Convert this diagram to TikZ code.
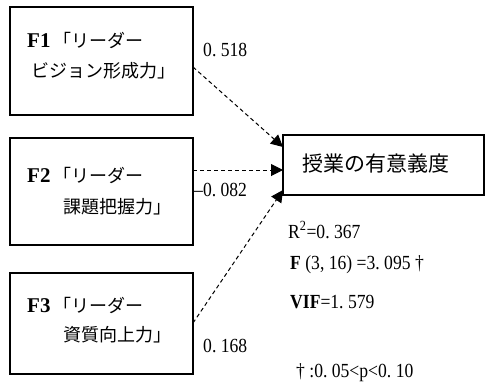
\documentclass[tikz,border=0pt]{standalone}
\usepackage{fontspec}
\setmainfont{Liberation Serif}
\newfontfamily\jp{Noto Sans CJK JP}
\usetikzlibrary{arrows.meta}
\newcommand\nar[1]{\scalebox{0.88}[1]{#1}}
\begin{document}
\begin{tikzpicture}[x=1pt,y=-1pt,
  box/.style={draw,line width=1.5pt,inner sep=0pt},
  jtxt/.style={font=\fontsize{18}{18}\selectfont,anchor=west,inner sep=0pt},
  num/.style={font=\fontsize{20}{20}\selectfont,anchor=west,inner sep=0pt},
  conn/.style={dash pattern=on 4pt off 3pt, line width=1pt, -{Triangle[length=12pt,width=12pt]}}]
\useasboundingbox (0,0) rectangle (486,389);
% boxes
\node[box, minimum width=183pt, minimum height=108pt] (f1) at (101.5,61) {};
\node[box, minimum width=183pt, minimum height=107pt] (f2) at (101.5,191.5) {};
\node[box, minimum width=183pt, minimum height=101pt] (f3) at (101.5,323.5) {};
\node[box, minimum width=201pt, minimum height=60pt] (y) at (383.5,165) {};
% box texts
\node[jtxt] (f1a) at (27,40) {\textbf{\fontsize{21}{21}\selectfont F1}\,{\jp 「リーダー}};
\node[jtxt] (f1b) at (31,71) {\jp ビジョン形成力」};
\node[jtxt] (f2a) at (27,175) {\textbf{\fontsize{21}{21}\selectfont F2}\,{\jp 「リーダー}};
\node[jtxt] (f2b) at (63,207) {\jp 課題把握力」};
\node[jtxt] (f3a) at (27,305) {\textbf{\fontsize{21}{21}\selectfont F3}\,{\jp 「リーダー}};
\node[jtxt] (f3b) at (63,335) {\jp 資質向上力」};
\node[jtxt, font=\fontsize{21}{21}\selectfont] (yt) at (302,164) {\jp 授業の有意義度};
% connectors
\coordinate (s1) at (193,67);
\coordinate (t1) at (283,147);
\coordinate (s2) at (193,170);
\coordinate (t2) at (283,170);
\coordinate (s3) at (193,323);
\coordinate (t3) at (283,190);
\draw[conn] (s1) -- (t1);
\draw[conn] (s2) -- (t2);
\draw[conn] (s3) -- (t3);
% coefficients
\node[num] (c1) at (203,50) {\nar{0.\ 518}};
\node[num] (c2) at (194,190) {\nar{--0.\ 082}};
\node[num] (c3) at (203,346) {\nar{0.\ 168}};
% statistics
\node[num] (r2) at (288,230) {\nar{R\textsuperscript{2}=0.\ 367}};
\node[num] (fs) at (290,265) {\nar{\textbf{F} (3,\ 16) =3.\ 095 †}};
\node[num] (vif) at (290,302) {\nar{\textbf{VIF}=1.\ 579}};
\node[num] (p) at (296,373) {\nar{† :0.\ 05<p<0.\ 10}};
\end{tikzpicture}
\end{document}
